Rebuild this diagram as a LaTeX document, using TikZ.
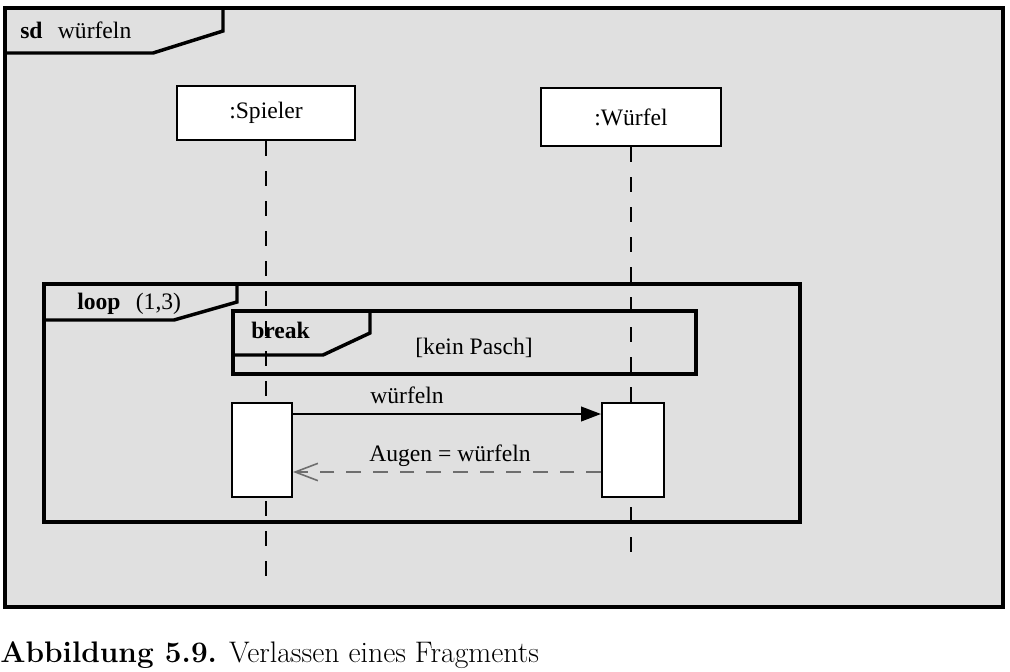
\documentclass[tikz,border=0pt]{standalone}
\usepackage{fontspec}
\usetikzlibrary{arrows.meta}
\newfontfamily\umlfont{Liberation Serif}
\definecolor{framegray}{RGB}{224,224,224}
\definecolor{replygray}{RGB}{110,110,110}

\begin{document}
\begin{tikzpicture}[x=0.75pt, y=-0.75pt,
		font=\umlfont\fontsize{17.7}{21}\selectfont,
		frame/.style={draw, line width=3pt},
		tab/.style={draw, line width=2.6pt, line join=miter},
		head/.style={draw, line width=1.5pt, fill=white, minimum width=134pt, minimum height=41pt},
		act/.style={draw, line width=1.5pt, fill=white, minimum width=45pt, minimum height=70.5pt, inner sep=0pt},
		lifeline/.style={line width=0.8pt, dash pattern=on 11.25pt off 11.25pt},
		call/.style={line width=1.5pt, -{Triangle[length=15pt, width=11pt]}},
		reply/.style={line width=1.5pt, replygray, dash pattern=on 11pt off 9pt, -{Straight Barb[length=17pt, width=13pt, line width=1.2pt]}}]
		\useasboundingbox (0,0) rectangle (1010,671);

		% sd frame
		\draw[frame, fill=framegray] (5,8) rectangle (1003,607);
		\draw[tab] (5,53) -- (153,53) -- (223,31) -- (223,8);
		\node[anchor=base west, inner sep=0pt] (sdlabel) at (20,38) {\textbf{sd}\hspace{0.65em}würfeln};

		% loop fragment
		\draw[frame] (44,284) rectangle (800,522);
		\draw[tab] (44,320) -- (174,320) -- (237,302) -- (237,284);
		\node[anchor=base west, inner sep=0pt] (looplabel) at (77,309) {\textbf{loop}\hspace{0.65em}(1,3)};

		% break fragment
		\draw[frame, line width=2.6pt] (233,311) rectangle (696,374);
		\draw[tab] (233,355) -- (323,355) -- (370,333) -- (370,311);
		\node[anchor=base west, inner sep=0pt] (breaklabel) at (251,338) {\textbf{break}};
		\node[anchor=base, inner sep=0pt] (guard) at (474,354) {[kein Pasch]};

		% lifelines
		\node[head] (spieler) at (266,113) {:Spieler};
		\node[head, minimum width=135pt, minimum height=43.5pt] (wuerfel) at (631,117) {:Würfel};
		\coordinate (spielerend) at (spieler.south |- 0,583);
		\coordinate (wuerfelend) at (wuerfel.south |- 0,563);
		\draw[lifeline] (spieler.south) -- (spielerend);
		\draw[lifeline] (wuerfel.south) -- (wuerfelend);

		% activations
		\node[act] (actS) at (262,450) {};
		\node[act, minimum width=46.5pt] (actW) at (633,450) {};

		% messages
		\draw[call] ([yshift=-9pt]actS.north east) -- ([yshift=-9pt]actW.north west);
		\node[anchor=base, inner sep=0pt] (calllabel) at (407,403) {würfeln};
		\draw[reply] ([yshift=-52.5pt]actW.north west) -- ([yshift=-52.5pt]actS.north east);
		\node[anchor=base, inner sep=0pt] (replylabel) at (450,461) {Augen = würfeln};

		% caption
		\node[anchor=base west, inner sep=0pt, font=\rmfamily\fontsize{22.3}{27}\selectfont] (caption) at (0,662) {\textbf{Abbildung 5.9.} Verlassen eines Fragments};
	\end{tikzpicture}
\end{document}
